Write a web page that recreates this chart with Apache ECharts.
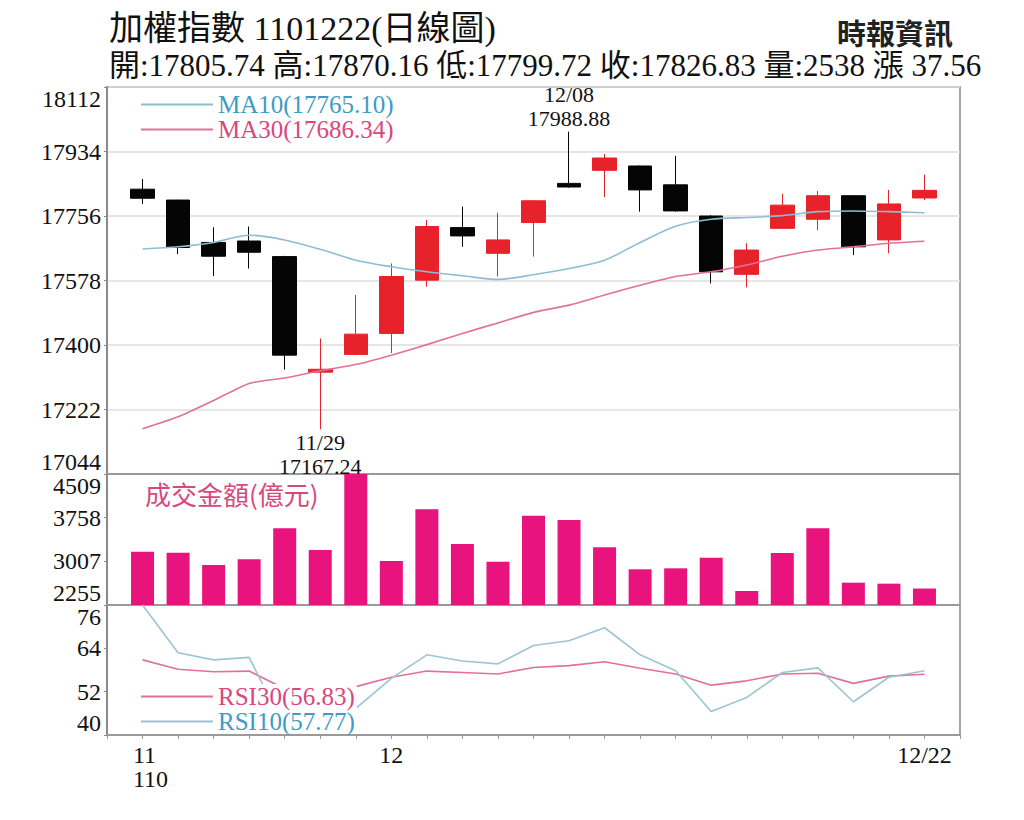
<!DOCTYPE html>
<html>
<head>
<meta charset="UTF-8">
<title>加權指數 日線圖</title>
<script src="https://cdn.jsdelivr.net/npm/echarts@6/dist/echarts.min.js"></script>
<style>
html,body{margin:0;padding:0;background:#fff;}
#main{width:1024px;height:820px;}
</style>
</head>
<body>
<div id="main"></div>
<script>
// 交易日
var dates = ['11/22','11/23','11/24','11/25','11/26','11/29','11/30','12/01','12/02','12/03','12/06','12/07',
             '12/08','12/09','12/10','12/13','12/14','12/15','12/16','12/17','12/20','12/21','12/22'];
// x軸刻度文字
var xLabels = ['11\n110','','','','','','','12','','','','','','','','','','','','','','','12/22'];

// K線 開/收/低/高
var opens  = [17830,17800,17683,17687,17644,17325,17374,17432,17579,17724,17653,17738,
              17846,17882,17894,17842,17756,17595,17722,17747,17812,17690,17805.74];
var closes = [17805,17669,17645,17656,17372,17333,17430,17589,17727,17701,17690,17798,
              17836,17916,17828,17770,17602,17662,17786,17812,17671,17789.27,17826.83];
var lows   = [17789,17651,17590,17611,17332,17167.24,17372,17378,17561,17671,17589,17644,
              17834,17808,17768,17768,17570,17559,17720,17717,17648,17653,17799.72];
var highs  = [17858,17801,17725,17727,17646,17418,17538,17625,17745,17782,17765,17800,
              17988.88,17927,17895,17922,17758,17681,17817,17825,17814,17828,17870.16];

// 均線
var ma10 = [17665,17671,17683,17703,17690,17664,17634,17616,17602,17591,17581,17594,
            17611,17634,17683,17728,17747,17752,17757,17768,17770,17768,17765.10];
var ma30 = [17169,17202,17247,17294,17309,17329,17346,17372,17401,17432,17461,17490,
            17510,17538,17565,17589,17602,17621,17645,17662,17671,17681,17686.34];

// 成交金額(億元)
var volumes = [3172,3155,2943,3041,3575,3201,4509,3012,3902,3305,3000,3792,
               3718,3248,2869,2886,3069,2496,3150,3575,2639,2622,2538];

// RSI
var rsi10 = [76,62.8,60.8,61.5,42,40.5,47.4,55.7,62.2,60.5,59.7,64.8,
             66.1,69.7,62.2,57.8,46.5,50.4,57.3,58.6,49.2,56,57.77];
var rsi30 = [60.8,58.2,57.5,57.7,52.8,52.3,53.4,56,57.7,57.3,56.9,58.7,
             59.2,60.3,58.5,56.9,53.8,55,56.9,57.1,54.3,56.3,56.83];

// y軸刻度
var priceTicks = [17044,17222,17400,17578,17756,17934,18112];
var volTicks = [2255,3007,3758,4509];
var rsiTicks = [40,52,64,76];

var SERIF = "'Liberation Serif','Noto Sans CJK TC',serif";
var BLUE_LINE = '#8dbdd5', PINK_LINE = '#e2709a';
var BLUE_TXT = '#3d9cc6', PINK_TXT = '#d9487d';
var lastVals = {MA10: ma10, MA30: ma30, RSI10: rsi10, RSI30: rsi30};

var n = dates.length;
var last = n - 1;
var hiIdx = highs.indexOf(Math.max.apply(null, highs));
var loIdx = lows.indexOf(Math.min.apply(null, lows));

var kData = [], ma10Data = [], ma30Data = [], volData = [], r10Data = [], r30Data = [];
for (var i = 0; i < n; i++) {
	kData.push([i, opens[i], closes[i], lows[i], highs[i]]);
	ma10Data.push([i, ma10[i]]);
	ma30Data.push([i, ma30[i]]);
	volData.push([i, volumes[i]]);
	r10Data.push([i, rsi10[i]]);
	r30Data.push([i, rsi30[i]]);
}

function nearestTick(ticks) {
	return function (v) {
		var best = ticks[0];
		for (var k = 0; k < ticks.length; k++) {
			if (Math.abs(ticks[k] - v) < Math.abs(best - v)) best = ticks[k];
		}
		return String(best);
	};
}

function yAxisFor(gridIndex, ticks, withSplit) {
	return {
		type: 'value', gridIndex: gridIndex,
		min: ticks[0], max: ticks[ticks.length - 1],
		interval: (ticks[ticks.length - 1] - ticks[0]) / (ticks.length - 1),
		axisLine: {show: true, onZero: false, lineStyle: {color: '#8a8a8a', width: 2}},
		axisTick: {show: true, length: 3, lineStyle: {color: '#8a8a8a'}},
		splitLine: {show: withSplit, lineStyle: {color: '#dedede', width: 1.5}},
		axisLabel: {
			margin: 6, color: '#111', fontSize: 24, fontFamily: SERIF,
			verticalAlignMinLabel: 'bottom', verticalAlignMaxLabel: 'top',
			formatter: nearestTick(ticks)
		}
	};
}

function xAxisFor(gridIndex, showLabels) {
	return {
		type: 'value', gridIndex: gridIndex, min: -1, max: n, interval: 1,
		axisLine: {show: true, onZero: false, lineStyle: {color: '#9a9a9a', width: 2}},
		axisTick: {show: showLabels, length: 4, lineStyle: {color: '#9a9a9a'}},
		splitLine: {show: false},
		axisLabel: {
			show: showLabels, margin: 8, color: '#111', fontSize: 24, fontFamily: SERIF, lineHeight: 24,
			formatter: function (v) {
				var s = xLabels[v] || '';
				if (s.indexOf('\n') >= 0) {
					return s.split('\n').map(function (t) { return '{a|' + t + '}'; }).join('\n');
				}
				return s;
			},
			rich: {a: {align: 'left', padding: [0, 0, 0, 16], fontSize: 24, fontFamily: SERIF, lineHeight: 24, color: '#111'}}
		}
	};
}

var headTxt = '開:' + opens[last].toFixed(2) + ' 高:' + highs[last].toFixed(2) +
	' 低:' + lows[last].toFixed(2) + ' 收:' + closes[last].toFixed(2) +
	' 量:' + volumes[last] + ' 漲 ' + (closes[last] - closes[last - 1]).toFixed(2);

var myChart = echarts.init(document.getElementById('main'), null, {renderer: 'svg'});
var option = {
	animation: false,
	backgroundColor: '#fff',
	title: [
		{text: '加權指數 1101222(日線圖)', left: 104, top: 6,
		 textStyle: {fontSize: 34, fontWeight: 'normal', color: '#111', fontFamily: SERIF}},
		{text: headTxt, left: 104, top: 45,
		 textStyle: {fontSize: 31, lineHeight: 31, fontWeight: 'normal', color: '#111', fontFamily: SERIF}},
		{text: '時報資訊', right: 66, top: 12,
		 textStyle: {fontSize: 29, lineHeight: 30, fontWeight: 'bold', color: '#222', fontFamily: "'Noto Sans CJK TC',serif"}},
		{text: '成交金額(億元)', left: 140, top: 475,
		 textStyle: {fontSize: 26, fontWeight: 'normal', color: PINK_TXT, fontFamily: "'Noto Sans CJK TC',sans-serif"}}
	],
	legend: [
		{
			data: [{name: 'MA10', textStyle: {color: BLUE_TXT}}, {name: 'MA30', textStyle: {color: PINK_TXT}}],
			orient: 'vertical', left: 141, top: 92, itemGap: 0, padding: 0,
			icon: 'rect', itemWidth: 72, itemHeight: 2, selectedMode: false,
			textStyle: {fontSize: 25, fontFamily: SERIF, lineHeight: 25},
			formatter: function (name) { return name + '(' + lastVals[name][last].toFixed(2) + ')'; }
		},
		{
			data: [{name: 'RSI30', textStyle: {color: PINK_TXT}}, {name: 'RSI10', textStyle: {color: BLUE_TXT}}],
			orient: 'vertical', left: 141, top: 684, itemGap: 0, padding: [0, 2, 0, 0],
			backgroundColor: '#fff',
			icon: 'rect', itemWidth: 72, itemHeight: 2, selectedMode: false,
			textStyle: {fontSize: 25, fontFamily: SERIF, lineHeight: 25},
			formatter: function (name) { return name + '(' + lastVals[name][last].toFixed(2) + ')'; }
		}
	],
	grid: [
		{left: 107, right: 64, top: 87, height: 387, show: true, borderColor: '#a5a5a5', borderWidth: 2},
		{left: 107, right: 64, top: 474, height: 131, show: true, borderColor: '#a5a5a5', borderWidth: 2},
		{left: 107, right: 64, top: 605, height: 130, show: true, borderColor: '#a5a5a5', borderWidth: 2}
	],
	xAxis: [xAxisFor(0, false), xAxisFor(1, false), xAxisFor(2, true)],
	yAxis: [yAxisFor(0, priceTicks, true), yAxisFor(1, volTicks, false), yAxisFor(2, rsiTicks, false)],
	series: [
		{
			type: 'candlestick', name: 'K', xAxisIndex: 0, yAxisIndex: 0, barWidth: 24,
			data: kData,
			itemStyle: {color: '#e8222a', color0: '#050505', borderColor: '#e8222a', borderColor0: '#050505', borderWidth: 1},
			markPoint: {
				symbol: 'circle', symbolSize: 1, itemStyle: {color: 'rgba(0,0,0,0)'},
				label: {
					color: '#111', fontSize: 22, fontFamily: SERIF, lineHeight: 24,
					formatter: function (p) { return dates[p.data.coord[0]] + '\n' + p.data.coord[1].toFixed(2); }
				},
				data: [
					{coord: [hiIdx, highs[hiIdx]], label: {position: 'top', distance: 1}},
					{coord: [loIdx, lows[loIdx]], label: {position: 'bottom', distance: 1}}
				]
			}
		},
		{type: 'line', name: 'MA10', xAxisIndex: 0, yAxisIndex: 0, data: ma10Data, smooth: 0.3,
		 symbol: 'none', color: BLUE_LINE, lineStyle: {width: 1.6, color: BLUE_LINE}, z: 3},
		{type: 'line', name: 'MA30', xAxisIndex: 0, yAxisIndex: 0, data: ma30Data, smooth: 0.2,
		 symbol: 'none', color: PINK_LINE, lineStyle: {width: 1.6, color: PINK_LINE}, z: 3},
		{type: 'bar', name: 'VOL', xAxisIndex: 1, yAxisIndex: 1, data: volData, barWidth: 23,
		 itemStyle: {color: '#e8137d'}},
		{type: 'line', name: 'RSI30', xAxisIndex: 2, yAxisIndex: 2, data: r30Data,
		 symbol: 'none', color: PINK_LINE, lineStyle: {width: 1.6, color: PINK_LINE}},
		{type: 'line', name: 'RSI10', xAxisIndex: 2, yAxisIndex: 2, data: r10Data,
		 symbol: 'none', color: '#9cc5d2', lineStyle: {width: 1.6, color: '#9cc5d2'}}
	]
};
myChart.setOption(option);
</script>
</body>
</html>
